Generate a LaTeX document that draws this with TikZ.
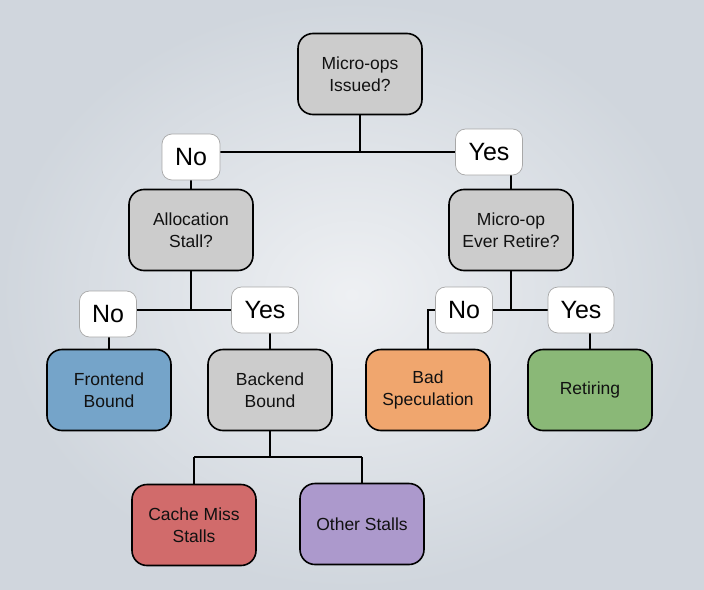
\documentclass[tikz,border=0pt]{standalone}
\usepackage{fontspec}
\setmainfont{Liberation Sans}
\usetikzlibrary{backgrounds}
\definecolor{boxgray}{HTML}{CCCCCC}
\definecolor{fblue}{HTML}{75A4C9}
\definecolor{borange}{HTML}{F0A66E}
\definecolor{rgreen}{HTML}{8AB877}
\definecolor{cred}{HTML}{D16B6B}
\definecolor{opurple}{HTML}{AC99CC}
\definecolor{bginner}{HTML}{EEF0F3}
\definecolor{bgouter}{HTML}{D0D6DD}
\definecolor{txt}{HTML}{111111}
\definecolor{lblborder}{HTML}{A8A8A8}
\begin{document}
\begin{tikzpicture}[x=1pt,y=-1pt,
  box/.style={draw=black, line width=1.6pt, rounded corners=15pt,
    minimum width=124pt, minimum height=81pt, align=center,
    font=\fontsize{17.5}{21.5}\selectfont, text=txt, inner sep=2pt},
  lbl/.style={draw=lblborder, fill=white, line width=0.7pt, rounded corners=10pt,
    minimum height=46pt, inner sep=2pt, font=\fontsize{25}{28}\selectfont, text=black},
  conn/.style={draw=black, line width=1.5pt}]
\useasboundingbox (0,0) rectangle (704,589);

% boxes
\node[box, fill=boxgray] (top) at (360,74) {Micro-ops\\Issued?};
\node[box, fill=boxgray] (alloc) at (191,230) {Allocation\\Stall?};
\node[box, fill=boxgray] (retire) at (511,230) {Micro-op\\Ever Retire?};
\node[box, fill=fblue] (front) at (109,390) {Frontend\\Bound};
\node[box, fill=boxgray] (back) at (270,390) {Backend\\Bound};
\node[box, fill=borange] (bad) at (428,390) {Bad\\Speculation};
\node[box, fill=rgreen] (ret) at (590,390) {Retiring};
\node[box, fill=cred] (cache) at (194,525) {Cache Miss\\Stalls};
\node[box, fill=opurple] (other) at (362,524) {Other Stalls};

% junctions
\coordinate (j1) at (360,152);
\coordinate (j2) at (191,310);
\coordinate (j3) at (511,310);
\coordinate (j4) at (270,457);

% labels
\node[lbl, minimum width=58pt] (no1) at (191,157) {No};
\node[lbl, minimum width=67pt] (yes1) at (489,152) {Yes};
\node[lbl, minimum width=57pt] (no2) at (108,314) {No};
\node[lbl, minimum width=67pt] (yes2) at (265,310) {Yes};
\node[lbl, minimum width=57pt] (no3) at (464,310) {No};
\node[lbl, minimum width=66pt] (yes3) at (581,310) {Yes};

\begin{scope}[on background layer]
\shade[inner color=bginner, outer color=bgouter] (0,0) rectangle (704,589);
\draw[conn] (top.south) -- (j1);
\draw[conn] (no1.center |- j1) -- (yes1.center |- j1);
\draw[conn] (alloc.north) -- (alloc.north |- no1.center);
\draw[conn] (retire.north) -- (retire.north |- yes1.center);
\draw[conn] (alloc.south) -- (j2);
\draw[conn] (no2.center |- j2) -- (yes2.center |- j2);
\draw[conn] (front.north) -- (front.north |- no2.center);
\draw[conn] (back.north) -- (back.north |- yes2.center);
\draw[conn] (retire.south) -- (j3);
\draw[conn] (no3.center |- j3) -- (yes3.center |- j3);
\draw[conn] (no3.center) -- (bad.north |- no3.center) -- (bad.north);
\draw[conn] (ret.north) -- (ret.north |- yes3.center);
\draw[conn] (back.south) -- (j4);
\draw[conn] (cache.north |- j4) -- (other.north |- j4);
\draw[conn] (cache.north |- j4) -- (cache.north);
\draw[conn] (other.north |- j4) -- (other.north);
\end{scope}
\end{tikzpicture}
\end{document}
